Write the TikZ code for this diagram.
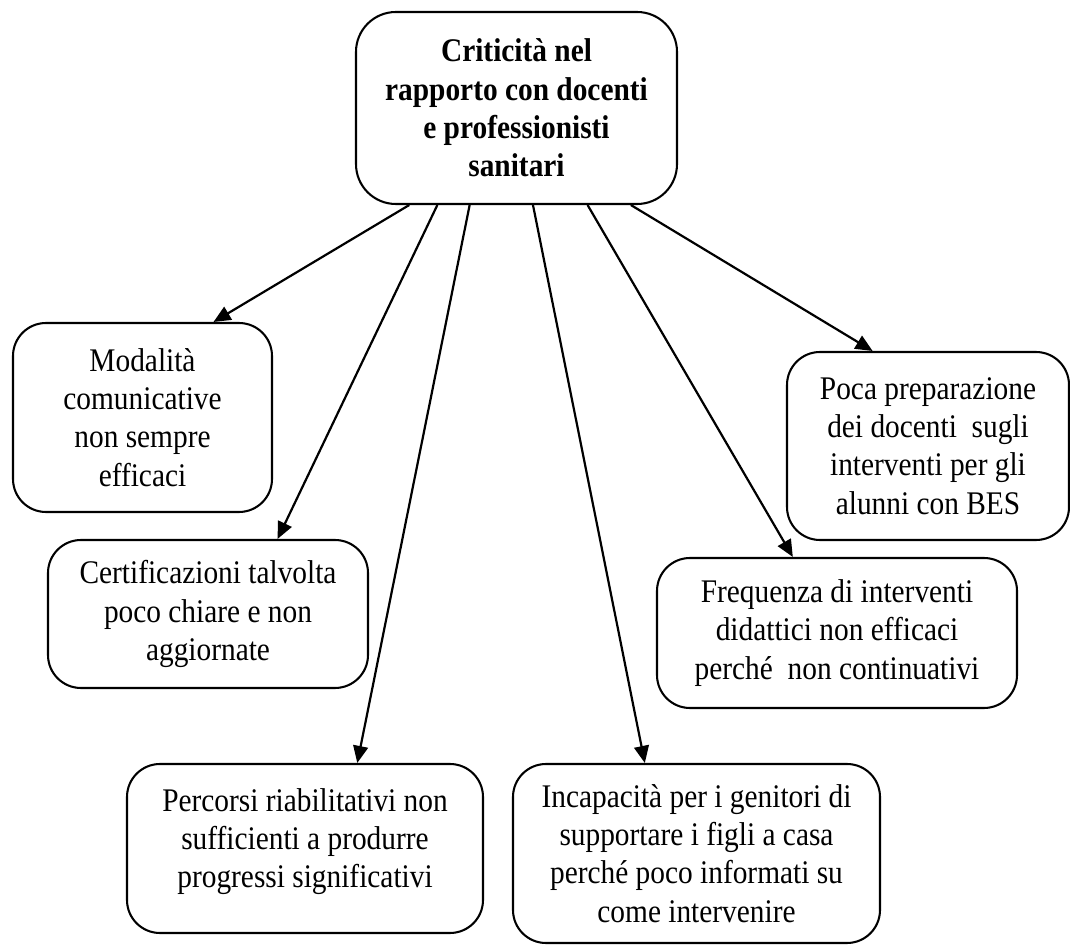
\documentclass[tikz,border=0pt]{standalone}
\usepackage{fontspec}
\setmainfont{Liberation Serif}[FakeStretch=0.89]
\usetikzlibrary{calc,arrows.meta}
\begin{document}
\begin{tikzpicture}[x=0.36364pt,y=-0.36364pt,
  box/.style={draw,line width=0.75pt,rounded corners=12pt,align=center,inner sep=0pt,
    font=\fontsize{12pt}{13.9pt}\selectfont},
  conn/.style={line width=0.8pt,-{Triangle[length=6.2pt,width=5.4pt]}}]
\useasboundingbox (0,0) rectangle (1070,945);
\node[box,rounded corners=14.5pt,minimum width=321*0.36364pt,minimum height=192*0.36364pt,font=\fontsize{12pt}{13.9pt}\selectfont\bfseries]
  (top) at (516.5,108) {Criticità nel\\rapporto con docenti\\e professionisti\\sanitari};
\node[box,minimum width=259*0.36364pt,minimum height=189*0.36364pt]
  (mod) at (142.5,417.5) {Modalità\\comunicative\\non sempre\\efficaci};
\node[box,minimum width=320*0.36364pt,minimum height=148*0.36364pt]
  (cert) at (208,614) {Certificazioni talvolta\\poco chiare e non\\aggiornate};
\node[box,minimum width=356*0.36364pt,minimum height=169*0.36364pt]
  (perc) at (305,848.5) {Percorsi riabilitativi non\\sufficienti a produrre\\progressi significativi\rule[-7.7pt]{0pt}{7.7pt}};
\node[box,minimum width=367*0.36364pt,minimum height=179*0.36364pt]
  (inc) at (696.5,853.5) {Incapacità per i genitori di\\supportare i figli a casa\\perché poco informati su\\come intervenire};
\node[box,minimum width=360*0.36364pt,minimum height=150*0.36364pt]
  (freq) at (837,633) {Frequenza di interventi\\didattici non efficaci\\perché\ \ non continuativi};
\node[box,minimum width=282*0.36364pt,minimum height=188*0.36364pt]
  (poca) at (928,446) {Poca preparazione\\dei docenti\ \ sugli\\interventi per gli\\alunni con BES};
\draw[conn] ($(top.south west)!0.168!(top.south east)$) -- ($(mod.north west)!0.772!(mod.north east)$);
\draw[conn] ($(top.south west)!0.255!(top.south east)$) -- ($(cert.north west)!0.716!(cert.north east)$);
\draw[conn] ($(top.south west)!0.355!(top.south east)$) -- ($(perc.north west)!0.646!(perc.north east)$);
\draw[conn] ($(top.south west)!0.551!(top.south east)$) -- ($(inc.north west)!0.360!(inc.north east)$);
\draw[conn] ($(top.south west)!0.720!(top.south east)$) -- ($(freq.north west)!0.378!(freq.north east)$);
\draw[conn] ($(top.south west)!0.854!(top.south east)$) -- ($(poca.north west)!0.305!(poca.north east)$);
\end{tikzpicture}
\end{document}
